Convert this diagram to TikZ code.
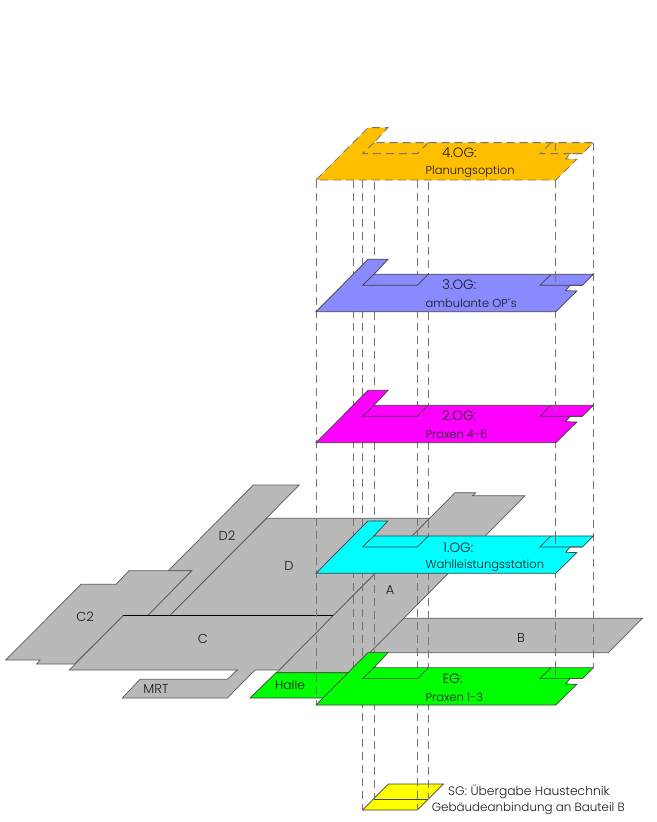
\documentclass[tikz,border=0pt]{standalone}
\usepackage{fontspec}
\setmainfont{Poppins Light}
\definecolor{planorange}{RGB}{255,191,0}
\definecolor{planblue}{RGB}{138,138,255}
\definecolor{plangray}{RGB}{185,185,185}
\definecolor{planmagenta}{RGB}{255,0,255}
\definecolor{plancyan}{RGB}{0,255,255}
\definecolor{plangreen}{RGB}{0,255,0}
\definecolor{planyellow}{RGB}{255,255,0}
\tikzset{
  shaft/.style={draw=black!55,line width=0.8pt,dash pattern=on 8pt off 5pt},
  floorline/.style={draw=black!75,line width=0.7pt},
  wingline/.style={draw=black!65,line width=0.7pt,fill=plangray},
  floortext/.style={anchor=west,inner sep=0pt,text=black!90,font=\fontsize{11.5}{12}\selectfont},
  headtext/.style={floortext,font=\fontsize{13.5}{14}\selectfont},
  wingtext/.style={floortext,anchor=center,font=\fontsize{13}{14}\selectfont},
}
\begin{document}
\begin{tikzpicture}[x=1pt,y=-1pt]
\useasboundingbox (0,0) rectangle (656,822);
% corner points of the storeys
\foreach \fl/\base in {f4/180,f3/311.7,f2/442.7,f1/573.3,f0/705}{
  \coordinate (\fl a) at (316,\base);
  \coordinate (\fl b) at (368,\base-52.4);
  \coordinate (\fl c) at (388,\base-52.4);
  \coordinate (\fl d) at (374,\base-37.4);
  \coordinate (\fl e) at (593.4,\base-37.4);
  \coordinate (\fl f) at (582.4,\base-26.4);
  \coordinate (\fl g) at (570,\base-26.4);
  \coordinate (\fl h) at (565.8,\base-21);
  \coordinate (\fl i) at (576.8,\base-20.7);
  \coordinate (\fl j) at (555.8,\base);
  \coordinate (\fl k) at (362.6,\base-26.4);
  \coordinate (\fl l) at (417.4,\base-26.4);
  \coordinate (\fl m) at (428.4,\base-37.4);
  \coordinate (\fl n) at (551,\base-37.4);
  \coordinate (\fl o) at (540,\base-26.4);
  \coordinate (\fl p) at (555.8,\base-37.4);
  \coordinate (\fl q) at (555.8,\base-26.4);
  \coordinate (\fl s) at (353.3,\base);
  \coordinate (\fl t) at (353.3,\base-37.6);
}
\coordinate (sga) at (362.6,810);
\coordinate (sgb) at (388.3,784);
\coordinate (sgc) at (443.3,784);
\coordinate (sgd) at (417.4,810);
\coordinate (sge) at (374,799);
\coordinate (sgf) at (428.4,799);
% building parts on the ground
\draw[wingline] (400,618.3) -- (642.3,618.3) -- (608.3,652.7) -- (366,652.7) -- cycle;
\draw[wingline] (253.3,485) -- (299.3,485) -- (170,615.5) -- (147.7,615.5) -- (191.7,570.7) -- (168.3,570.7) -- cycle;
\draw[wingline] (266.7,518.3) -- (429.6,518.3) -- (333.4,615.5) -- (170,615.5) -- cycle;
\draw[wingline] (5.7,660) -- (81,584.3) -- (116,584.3) -- (129,570.7) -- (191.7,570.7) -- (147.7,615.5) -- (123.3,615.5) -- (74.7,664) -- (36.7,664) -- (40,660) -- cycle;
\draw[wingline] (69.3,670) -- (123.3,615.5) -- (333.4,615.5) -- (279.4,670) -- (255,670) -- (227.3,698) -- (122.3,698) -- (140,679.3) -- (227.3,679.3) -- (237.3,670) -- cycle;
\draw[wingline] (455,492.7) -- (475.7,492.7) -- (472.7,495.7) -- (525,495.7) -- (350,672.7) -- (276.7,672.7) -- cycle;
\draw[draw=black,line width=0.7pt] (123.3,615.5) -- (333.4,615.5);
\draw[floorline,fill=plangreen] (250,698) -- (276,672.7) -- (350,672.7) -- (330,698) -- cycle;
\draw[floorline,fill=planyellow] (sga) -- (sgb) -- (sgc) -- (sgd) -- cycle;
\draw[floorline] (sge) -- (sgf);
% shafts between the storeys
\path[shaft] (f4a) edge (f0a) (f4s) edge (f0t) (f4k) edge (sga) (f4d) edge (sge)
  (f4l) edge (sgd) (f4m) edge (sgf) (f4j) edge (f0j) (f4e) edge (f0e);
% storeys
\foreach \fl/\col/\edge in {f4/planorange/shaft,f3/planblue/floorline,f2/planmagenta/floorline,f1/plancyan/floorline,f0/plangreen/floorline}{
  \draw[\edge,fill=\col] (\fl a) -- (\fl b) -- (\fl c) -- (\fl d) -- (\fl e) -- (\fl f) -- (\fl g) -- (\fl h) -- (\fl i) -- (\fl j) -- cycle;
  \draw[\edge] (\fl d) -- (\fl k) -- (\fl l) -- (\fl m);
  \draw[\edge] (\fl n) -- (\fl o) -- (\fl f);
  \draw[shaft] (\fl p) -- (\fl q);
}
% labels
\node (og4) [headtext] at (442,153) {4.OG:};
\node (og4b) [floortext] at (425.5,172) {Planungsoption};
\node (og3) [headtext] at (442,285) {3.OG:};
\node (og3b) [floortext] at (425.5,303.5) {ambulante OP´s};
\node (og2) [headtext] at (442,416) {2.OG:};
\node (og2b) [floortext] at (425.5,434.5) {Praxen 4-6};
\node (og1) [headtext] at (443,547.5) {1.OG:};
\node (og1b) [floortext] at (425.5,565.3) {Wahlleistungsstation};
\node (og0) [headtext] at (442.5,679) {EG:};
\node (og0b) [floortext] at (425.5,697) {Praxen 1-3};
\node (sgtop) [floortext,font=\fontsize{12.3}{13}\selectfont] at (448,791.5) {SG: Übergabe Haustechnik};
\node (sgbot) [floortext,font=\fontsize{11.9}{13}\selectfont] at (431.7,809) {Gebäudeanbindung an Bauteil B};
\node (d2) [wingtext] at (227,536) {D2};
\node (dd) [wingtext] at (289,566) {D};
\node (c2) [wingtext] at (85,617) {C2};
\node (cc) [wingtext] at (203,639) {C};
\node (mrt) [wingtext] at (156,689) {MRT};
\node (halle) [wingtext,font=\fontsize{12.3}{13}\selectfont] at (290,685) {Halle};
\node (aa) [wingtext] at (390,590) {A};
\node (bb) [wingtext] at (521,638) {B};
\end{tikzpicture}
\end{document}
